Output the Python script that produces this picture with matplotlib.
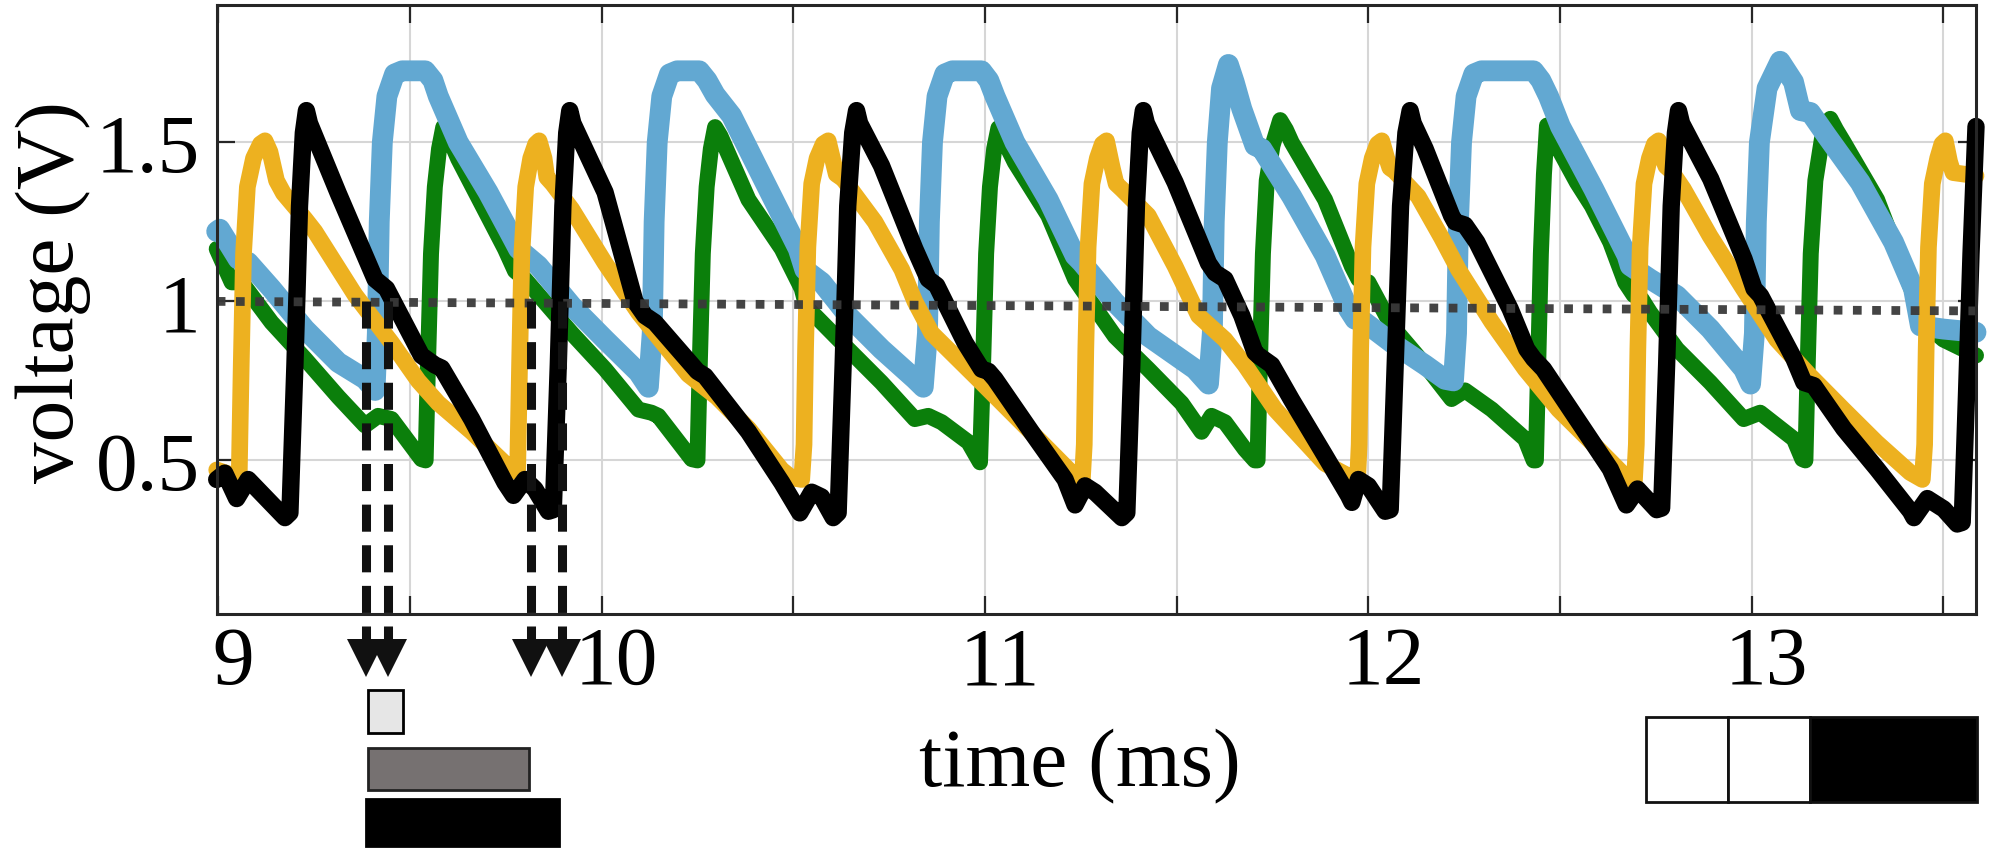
import matplotlib
matplotlib.use('Agg')
import matplotlib.pyplot as plt
import matplotlib.transforms as mtransforms
from matplotlib.patches import Rectangle

plt.rcParams['font.family'] = ['Liberation Serif', 'DejaVu Serif']

# ---------------- data (time in ms, voltage in V) ----------------
orange_pts = [
    (8.996, 0.47), (9.045, 0.45), (9.055, 0.47), (9.060, 0.80), (9.066, 1.15), (9.076, 1.36),
    (9.092, 1.45), (9.110, 1.495), (9.122, 1.505), (9.135, 1.47), (9.152, 1.38), (9.170, 1.34),
    (9.226, 1.26), (9.252, 1.22), (9.357, 1.02), (9.452, 0.87), (9.522, 0.75), (9.574, 0.68),
    (9.661, 0.59), (9.748, 0.49), (9.776, 0.465),
    (9.781, 0.47), (9.786, 0.80), (9.792, 1.15), (9.802, 1.36), (9.815, 1.45), (9.828, 1.495),
    (9.837, 1.505), (9.850, 1.45), (9.857, 1.39), (9.872, 1.37), (9.922, 1.29), (10.009, 1.12),
    (10.096, 0.965), (10.226, 0.77), (10.300, 0.70), (10.383, 0.60), (10.470, 0.47),
    (10.496, 0.445), (10.522, 0.44),
    (10.528, 0.55), (10.532, 0.85), (10.538, 1.17), (10.548, 1.37), (10.562, 1.45),
    (10.578, 1.495), (10.591, 1.505), (10.604, 1.44), (10.612, 1.40), (10.630, 1.385),
    (10.713, 1.25), (10.783, 1.10), (10.817, 1.00), (10.861, 0.90), (10.991, 0.745),
    (11.078, 0.64), (11.165, 0.535), (11.243, 0.44), (11.254, 0.44),
    (11.259, 0.55), (11.263, 0.85), (11.269, 1.17), (11.279, 1.37), (11.293, 1.45),
    (11.306, 1.495), (11.317, 1.505), (11.332, 1.42), (11.342, 1.37), (11.357, 1.353),
    (11.426, 1.27), (11.496, 1.11), (11.557, 0.955), (11.626, 0.88), (11.678, 0.80),
    (11.757, 0.66), (11.887, 0.49), (11.965, 0.44), (11.972, 0.44),
    (11.976, 0.55), (11.980, 0.85), (11.986, 1.17), (11.996, 1.37), (12.010, 1.45),
    (12.024, 1.495), (12.035, 1.505), (12.048, 1.45), (12.056, 1.42), (12.068, 1.41),
    (12.130, 1.33), (12.191, 1.20), (12.235, 1.10), (12.322, 0.935), (12.409, 0.787),
    (12.496, 0.66), (12.583, 0.556), (12.670, 0.45), (12.694, 0.435),
    (12.699, 0.55), (12.703, 0.85), (12.709, 1.17), (12.719, 1.37), (12.733, 1.45),
    (12.746, 1.495), (12.757, 1.505), (12.768, 1.45), (12.776, 1.425), (12.790, 1.41),
    (12.822, 1.353), (12.891, 1.206), (12.978, 1.04), (13.065, 0.88), (13.152, 0.766),
    (13.239, 0.66), (13.326, 0.556), (13.413, 0.462), (13.445, 0.44),
    (13.451, 0.55), (13.455, 0.85), (13.461, 1.17), (13.471, 1.37), (13.485, 1.45),
    (13.496, 1.495), (13.505, 1.505), (13.516, 1.44), (13.525, 1.405), (13.585, 1.395),
]

black_pts = [
    (8.996, 0.44), (9.017, 0.46), (9.048, 0.38), (9.078, 0.44), (9.174, 0.32), (9.187, 0.335),
    (9.200, 0.80), (9.212, 1.30), (9.222, 1.53), (9.230, 1.60), (9.238, 1.56), (9.313, 1.34),
    (9.409, 1.07), (9.439, 1.04), (9.530, 0.83), (9.565, 0.80), (9.583, 0.79), (9.661, 0.63),
    (9.748, 0.43), (9.770, 0.39), (9.800, 0.44), (9.826, 0.41), (9.861, 0.34), (9.874, 0.345),
    (9.887, 0.80), (9.899, 1.30), (9.909, 1.53), (9.917, 1.60), (9.925, 1.56), (10.009, 1.343),
    (10.087, 1.00), (10.113, 0.955), (10.139, 0.934), (10.250, 0.78), (10.270, 0.765),
    (10.383, 0.59), (10.470, 0.43), (10.517, 0.335), (10.548, 0.40), (10.574, 0.385),
    (10.604, 0.32), (10.617, 0.335), (10.630, 0.80), (10.642, 1.30), (10.655, 1.53),
    (10.665, 1.60), (10.673, 1.56), (10.730, 1.427), (10.817, 1.165), (10.852, 1.07),
    (10.874, 1.05), (10.948, 0.87), (10.991, 0.787), (11.009, 0.78), (11.026, 0.756),
    (11.122, 0.588), (11.209, 0.44), (11.235, 0.36), (11.261, 0.42), (11.287, 0.40),
    (11.357, 0.32), (11.370, 0.335), (11.383, 0.80), (11.395, 1.30), (11.405, 1.53),
    (11.413, 1.60), (11.421, 1.56), (11.496, 1.374), (11.583, 1.12), (11.600, 1.09),
    (11.626, 1.07), (11.670, 0.955), (11.704, 0.84), (11.713, 0.83), (11.748, 0.80),
    (11.800, 0.69), (11.887, 0.515), (11.948, 0.39), (11.957, 0.368), (11.974, 0.44),
    (12.000, 0.42), (12.044, 0.34), (12.057, 0.345), (12.070, 0.80), (12.084, 1.30),
    (12.098, 1.53), (12.109, 1.60), (12.117, 1.56), (12.148, 1.48), (12.217, 1.27),
    (12.226, 1.25), (12.252, 1.24), (12.283, 1.186), (12.370, 0.976), (12.413, 0.85),
    (12.431, 0.82), (12.457, 0.787), (12.544, 0.63), (12.631, 0.473), (12.673, 0.36),
    (12.702, 0.41), (12.752, 0.345), (12.765, 0.35), (12.778, 0.80), (12.790, 1.30),
    (12.801, 1.53), (12.809, 1.60), (12.817, 1.56), (12.893, 1.385), (12.980, 1.133),
    (13.006, 1.04), (13.023, 1.018), (13.110, 0.82), (13.136, 0.745), (13.162, 0.735),
    (13.240, 0.60), (13.327, 0.473), (13.414, 0.34), (13.423, 0.32), (13.458, 0.38),
    (13.501, 0.347), (13.536, 0.30), (13.549, 0.305), (13.560, 0.70), (13.572, 1.15),
    (13.585, 1.55),
]

green_pts = [
    (8.996, 1.165), (9.035, 1.06), (9.061, 1.06), (9.139, 0.934), (9.226, 0.82), (9.313, 0.70),
    (9.383, 0.61), (9.417, 0.64), (9.452, 0.63), (9.530, 0.504), (9.541, 0.50), (9.547, 0.80),
    (9.555, 1.15), (9.565, 1.36), (9.576, 1.48), (9.587, 1.548), (9.600, 1.52), (9.626, 1.448),
    (9.748, 1.165), (9.774, 1.096), (9.800, 1.07), (9.922, 0.90), (10.009, 0.787),
    (10.096, 0.66), (10.130, 0.65), (10.148, 0.64), (10.235, 0.504), (10.250, 0.50),
    (10.256, 0.80), (10.264, 1.15), (10.274, 1.36), (10.285, 1.48), (10.296, 1.548),
    (10.310, 1.52), (10.383, 1.32), (10.470, 1.165), (10.522, 1.04), (10.535, 0.98),
    (10.557, 0.955), (10.643, 0.85), (10.730, 0.745), (10.817, 0.63), (10.852, 0.64),
    (10.887, 0.62), (10.957, 0.557), (10.987, 0.494), (10.995, 0.80), (11.003, 1.15),
    (11.013, 1.36), (11.024, 1.48), (11.035, 1.545), (11.048, 1.51), (11.078, 1.437),
    (11.165, 1.27), (11.235, 1.07), (11.252, 1.04), (11.339, 0.89), (11.426, 0.787),
    (11.513, 0.68), (11.565, 0.59), (11.591, 0.64), (11.626, 0.62), (11.678, 0.535),
    (11.704, 0.50), (11.711, 0.50), (11.717, 0.80), (11.725, 1.15), (11.735, 1.38),
    (11.750, 1.49), (11.770, 1.57), (11.785, 1.54), (11.800, 1.50), (11.887, 1.32),
    (11.957, 1.11), (11.974, 1.07), (12.000, 1.06), (12.061, 0.923), (12.148, 0.80),
    (12.217, 0.693), (12.252, 0.72), (12.322, 0.66), (12.409, 0.567), (12.431, 0.50),
    (12.437, 0.50), (12.443, 0.80), (12.450, 1.15), (12.458, 1.40), (12.466, 1.553),
    (12.480, 1.51), (12.496, 1.48), (12.544, 1.374), (12.583, 1.30), (12.631, 1.186),
    (12.670, 1.06), (12.692, 1.02), (12.713, 1.007), (12.735, 0.965), (12.805, 0.85),
    (12.892, 0.745), (12.979, 0.63), (13.022, 0.65), (13.110, 0.567), (13.132, 0.504),
    (13.140, 0.50), (13.146, 0.80), (13.154, 1.15), (13.166, 1.38), (13.183, 1.51),
    (13.205, 1.574), (13.220, 1.54), (13.240, 1.50), (13.327, 1.32), (13.413, 1.05),
    (13.448, 0.934), (13.500, 0.88), (13.585, 0.83),
]

blue_pts = [
    (8.996, 1.22), (9.004, 1.227), (9.052, 1.133), (9.078, 1.123), (9.139, 1.04), (9.226, 0.913),
    (9.313, 0.808), (9.383, 0.756), (9.409, 0.72), (9.415, 0.90), (9.420, 1.25), (9.428, 1.50),
    (9.440, 1.645), (9.460, 1.715), (9.480, 1.725), (9.540, 1.725), (9.560, 1.695),
    (9.574, 1.645), (9.626, 1.50), (9.704, 1.343), (9.765, 1.206), (9.783, 1.165),
    (9.835, 1.112), (9.922, 0.986), (10.009, 0.88), (10.096, 0.777), (10.122, 0.73),
    (10.132, 0.90), (10.137, 1.25), (10.145, 1.50), (10.157, 1.645), (10.177, 1.715),
    (10.197, 1.725), (10.255, 1.725), (10.275, 1.695), (10.296, 1.65), (10.339, 1.584),
    (10.426, 1.374), (10.513, 1.165), (10.530, 1.10), (10.574, 1.06), (10.643, 0.955),
    (10.730, 0.85), (10.817, 0.756), (10.839, 0.73), (10.850, 0.90), (10.855, 1.25),
    (10.863, 1.50), (10.875, 1.645), (10.895, 1.715), (10.915, 1.725), (10.991, 1.725),
    (11.010, 1.695), (11.026, 1.645), (11.078, 1.50), (11.165, 1.32), (11.235, 1.144),
    (11.252, 1.123), (11.339, 0.997), (11.426, 0.89), (11.548, 0.787), (11.583, 0.74),
    (11.593, 0.90), (11.598, 1.25), (11.606, 1.50), (11.617, 1.67), (11.635, 1.745),
    (11.650, 1.69), (11.670, 1.605), (11.704, 1.49), (11.722, 1.48), (11.800, 1.33),
    (11.887, 1.144), (11.948, 0.976), (11.965, 0.944), (11.991, 0.934), (12.061, 0.87),
    (12.148, 0.80), (12.200, 0.755), (12.222, 0.75), (12.230, 0.90), (12.235, 1.25),
    (12.243, 1.50), (12.255, 1.645), (12.275, 1.715), (12.295, 1.725), (12.431, 1.725),
    (12.450, 1.695), (12.470, 1.645), (12.501, 1.55), (12.588, 1.353), (12.675, 1.144),
    (12.683, 1.112), (12.735, 1.07), (12.805, 1.018), (12.892, 0.913), (12.979, 0.787),
    (12.997, 0.74), (13.007, 0.90), (13.012, 1.25), (13.020, 1.50), (13.040, 1.67),
    (13.074, 1.755), (13.109, 1.69), (13.127, 1.60), (13.153, 1.594), (13.196, 1.52),
    (13.283, 1.374), (13.370, 1.186), (13.422, 1.04), (13.440, 0.923), (13.500, 0.913),
    (13.585, 0.903),
]

threshold_t = [8.996, 13.585]
threshold_v = [1.0, 0.970]

arrow_times = [9.385, 9.442, 9.817, 9.896]          # crossings marked by dashed arrows

x_ticks = [9, 9.5, 10, 10.5, 11, 11.5, 12, 12.5, 13, 13.5]
x_tick_labels = ['9', '', '10', '', '11', '', '12', '', '13', '']
y_ticks = [0.5, 1.0, 1.5]
y_tick_labels = ['0.5', '1', '1.5']

# timing bars under the axes: (start ms, end ms, face colour)
timing_bars = [(9.391, 9.481, '#e6e6e6'), (9.391, 9.810, '#767171'), (9.385, 9.889, '#000000')]
# bit pattern box at bottom right: (start ms, end ms, face colour)
bit_cells = [(12.723, 12.938, 'white'), (12.938, 13.151, 'white'), (13.151, 13.588, 'black')]

# ---------------- figure ----------------
W, H = 1997, 854
fig = plt.figure(figsize=(W / 100, H / 100), dpi=100)
ax = fig.add_axes([216.7 / W, 1 - 615 / H, (1976 - 216.7) / W, 609 / H])
ax.set_xlim(8.996, 13.585)
ax.set_ylim(0.017, 1.932)

def split(pts):
    return [p[0] for p in pts], [p[1] for p in pts]

common = dict(solid_capstyle='round', solid_joinstyle='round', clip_on=False)
t, v = split(green_pts)
ax.plot(t, v, color='#0b7f0b', lw=11.5, zorder=3, **common)
t, v = split(blue_pts)
ax.plot(t, v, color='#62a8d2', lw=15.0, zorder=4, **common)
t, v = split(orange_pts)
ax.plot(t, v, color='#edb120', lw=12.0, zorder=5, **common)
t, v = split(black_pts)
ax.plot(t, v, color='#000000', lw=12.5, zorder=6, **common)

# threshold (dotted)
ax.plot(threshold_t, threshold_v, color='#3a3a3a', lw=6.3, alpha=0.95,
        linestyle=(0, (1.0, 1.2)), dash_capstyle='butt', zorder=7, clip_on=False)

# dashed arrows running below the axes
for ta in arrow_times:
    ax.plot([ta, ta], [1.0, -0.07], color='#111111', lw=6.5, linestyle=(0, (3.0, 1.5)),
            dash_capstyle='butt', zorder=8, clip_on=False)
    ax.plot([ta], [-0.1217], marker='v', ms=28, color='#111111', mew=0, zorder=8,
            clip_on=False)

# grid, ticks, spines
ax.set_xticks(x_ticks)
ax.set_xticklabels(x_tick_labels)
ax.set_yticks(y_ticks)
ax.set_yticklabels(y_tick_labels)
ax.grid(True, color='#d6d6d6', lw=1.5, zorder=0)
ax.set_axisbelow(True)
ax.tick_params(axis='both', direction='in', length=13, width=1.6, color='#262626',
               top=True, right=True, labelsize=60)
ax.tick_params(axis='x', pad=8.5)
ax.tick_params(axis='y', pad=12)
for lab in ax.get_xticklabels():
    lab.set_transform(lab.get_transform() +
                      mtransforms.ScaledTranslation(15 / 100, 0, fig.dpi_scale_trans))
for s in ax.spines.values():
    s.set_linewidth(2.2)
    s.set_color('#262626')
    s.set_zorder(9)

# axis labels
fig.text(1080 / W, 1 - 767 / H, 'time (ms)', ha='center', va='center', fontsize=60)
fig.text(53 / W, 1 - 292 / H, 'voltage (V)', ha='center', va='center', fontsize=60,
         rotation=90)

# timing bars and bit box (x in data units, y in figure fraction)
trans = mtransforms.blended_transform_factory(ax.transData, fig.transFigure)
bar_rows = [(0.1405, 0.1912), (0.0738, 0.1230), (0.0082, 0.0632)]
bar_edges = ['#000000', '#222222', '#000000']
for (t0, t1, fc), (y0, y1), ec in zip(timing_bars, bar_rows, bar_edges):
    ax.add_patch(Rectangle((t0, y0), t1 - t0, y1 - y0, transform=trans, facecolor=fc,
                           edgecolor=ec, lw=2.0, clip_on=False, zorder=10))
for t0, t1, fc in bit_cells:
    ax.add_patch(Rectangle((t0, 0.0601), t1 - t0, 0.1589 - 0.0601, transform=trans,
                           facecolor=fc, edgecolor='#111111', lw=2.0, clip_on=False,
                           zorder=10))

fig.savefig('out.png', dpi=100)
